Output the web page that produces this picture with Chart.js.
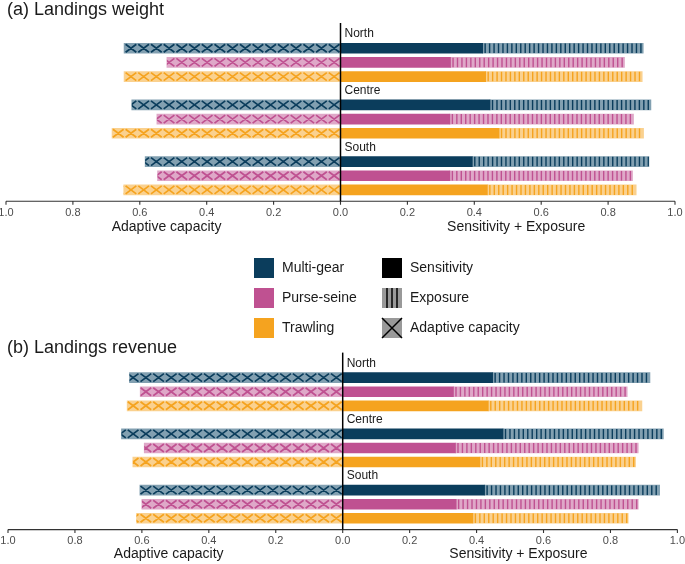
<!DOCTYPE html>
<html>
<head>
<meta charset="utf-8">
<script src="https://cdn.jsdelivr.net/npm/chart.js@4.4.1/dist/chart.umd.min.js"></script>
<style>
  body { margin: 0; background: #fff; font-family: "Liberation Sans", Arial, sans-serif; }
  #wrap { position: relative; width: 685px; height: 564px; overflow: hidden; }
  .box { position: absolute; left: 0; width: 685px; }
</style>
</head>
<body>
<div id="wrap">
  <div class="box" style="top:0;height:240px"><canvas id="weightCanvas"></canvas></div>
  <div class="box" style="top:330px;height:234px"><canvas id="revenueCanvas"></canvas></div>
  <canvas id="legendCanvas" width="685" height="96" style="position:absolute;left:0;top:245px"></canvas>
</div>
<script>
// Categories
const regions = ["North", "Centre", "South"];
const gears = ["Multi-gear", "Purse-seine", "Trawling"];
const xTicks = [-1, -0.8, -0.6, -0.4, -0.2, 0, 0.2, 0.4, 0.6, 0.8, 1];

// (a) Landings weight  (order: North MG, PS, TR, Centre MG, PS, TR, South MG, PS, TR)
const weightSensitivity = [0.425, 0.329, 0.434, 0.447, 0.327, 0.474, 0.394, 0.327, 0.439];
const weightExposure    = [0.480, 0.520, 0.468, 0.481, 0.549, 0.432, 0.528, 0.546, 0.445];
const weightAdaptive    = [0.647, 0.519, 0.647, 0.624, 0.549, 0.683, 0.584, 0.547, 0.648];

// (b) Landings revenue
const revenueSensitivity = [0.448, 0.331, 0.435, 0.479, 0.337, 0.410, 0.424, 0.339, 0.389];
const revenueExposure    = [0.470, 0.519, 0.459, 0.479, 0.546, 0.465, 0.523, 0.544, 0.464];
const revenueAdaptive    = [0.637, 0.605, 0.644, 0.661, 0.593, 0.627, 0.606, 0.600, 0.616];

// couleurs par engin
const gearDark  = ["#0B3D5C", "#BF5191", "#F5A31F"];
const gearLight = ["#82A0B1", "#DFA8C8", "#FAD18F"];
const FONT = "'Liberation Sans', Arial, sans-serif";

// une ligne d'en-tete par region + 3 lignes de barres
const rowLabels = [];
regions.forEach(function(r) {
  rowLabels.push(r);
  gears.forEach(function(g) { rowLabels.push(r + " " + g); });
});

function toRows(values, sign) {
  var out = [];
  regions.forEach(function(r, i) {
    out.push(null);
    gears.forEach(function(g, j) { out.push(sign * values[i * 3 + j]); });
  });
  return out;
}

function gearOf(idx) { return (idx % 4) - 1; }

function hatch(ctx, el, color, kind) {
  var left = Math.min(el.x, el.base), right = Math.max(el.x, el.base);
  var top = el.y - el.height / 2, bottom = el.y + el.height / 2;
  ctx.save();
  ctx.beginPath();
  ctx.rect(left, top, right - left, el.height);
  ctx.clip();
  ctx.strokeStyle = color;
  ctx.beginPath();
  if (kind === "cross") {
    var w = 12.7;
    ctx.lineWidth = 1.7;
    for (var cx = el.base; cx > left - w; cx -= w) {
      ctx.moveTo(cx - 1, top + 1); ctx.lineTo(cx - w + 1, bottom - 1);
      ctx.moveTo(cx - w + 1, top + 1); ctx.lineTo(cx - 1, bottom - 1);
    }
  } else {
    ctx.lineWidth = 1.4;
    for (var sx = left + 2.5; sx < right; sx += 4.45) {
      ctx.moveTo(sx, top); ctx.lineTo(sx, bottom);
    }
  }
  ctx.stroke();
  ctx.restore();
}

// motifs, axes et textes du panneau
const panelDecor = {
  id: "panelDecor",
  afterDatasetsDraw: function(chart) {
    var ctx = chart.ctx;
    chart.getDatasetMeta(1).data.forEach(function(el, i) {
      var g = gearOf(i);
      if (g >= 0) hatch(ctx, el, gearDark[g], "stripes");
    });
    chart.getDatasetMeta(2).data.forEach(function(el, i) {
      var g = gearOf(i);
      if (g >= 0) hatch(ctx, el, gearDark[g], "cross");
    });
  },
  afterDraw: function(chart, args, opts) {
    var ctx = chart.ctx, area = chart.chartArea;
    var xs = chart.scales.x, ys = chart.scales.y;
    var axisY = area.bottom + 4.3;
    var x0 = xs.getPixelForValue(0);
    ctx.save();
    // axe x
    ctx.strokeStyle = "#333333";
    ctx.lineWidth = 1.1;
    ctx.beginPath();
    ctx.moveTo(xs.getPixelForValue(-1), axisY);
    ctx.lineTo(xs.getPixelForValue(1), axisY);
    xTicks.forEach(function(v) {
      var px = xs.getPixelForValue(v);
      ctx.moveTo(px, axisY); ctx.lineTo(px, axisY + 3.5);
    });
    ctx.stroke();
    // ligne du zero
    ctx.strokeStyle = "#000000";
    ctx.lineWidth = 1.5;
    ctx.beginPath();
    ctx.moveTo(x0, area.top - 4);
    ctx.lineTo(x0, axisY);
    ctx.stroke();
    // etiquettes des regions
    ctx.fillStyle = "#1a1a1a";
    ctx.font = "12px " + FONT;
    ctx.textAlign = "left";
    ctx.textBaseline = "middle";
    regions.forEach(function(r, i) {
      ctx.fillText(r, x0 + 4, ys.getPixelForValue(i * 4));
    });
    // titres des axes
    ctx.font = "14px " + FONT;
    ctx.textAlign = "center";
    ctx.fillText("Adaptive capacity", xs.getPixelForValue(-0.52), area.bottom + opts.titleOffset);
    ctx.fillText("Sensitivity + Exposure", xs.getPixelForValue(0.525), area.bottom + opts.titleOffset);
    // titre du panneau
    ctx.font = "18px " + FONT;
    ctx.textAlign = "left";
    ctx.textBaseline = "alphabetic";
    ctx.fillText(opts.title, 7, opts.titleY);
    ctx.restore();
  }
};

function makePanel(canvasId, title, sens, expo, adapt, pad, axisHeight, titleY, titleOffset) {
  var dataGraph = {
    type: "bar",
    data: {
      labels: rowLabels,
      datasets: [
        {
          label: "Sensitivity",
          data: toRows(sens, 1),
          backgroundColor: function(c) { return gearDark[gearOf(c.dataIndex)] || "transparent"; },
          barThickness: 10,
          borderWidth: 0
        },
        {
          label: "Exposure",
          data: toRows(expo, 1),
          backgroundColor: function(c) { return gearLight[gearOf(c.dataIndex)] || "transparent"; },
          barThickness: 10,
          borderWidth: 0
        },
        {
          label: "Adaptive capacity",
          data: toRows(adapt, -1),
          backgroundColor: function(c) { return gearLight[gearOf(c.dataIndex)] || "transparent"; },
          barThickness: 10,
          borderWidth: 0
        }
      ]
    },
    options: {
      indexAxis: "y",
      responsive: true,
      maintainAspectRatio: false,
      animation: false,
      layout: { padding: pad },
      scales: {
        y: { stacked: true, display: false },
        x: {
          stacked: true,
          min: -1,
          max: 1,
          grid: { display: false, drawTicks: false },
          border: { display: false },
          afterBuildTicks: function(s) { s.ticks = xTicks.map(function(v) { return { value: v }; }); },
          afterFit: function(s) { s.paddingLeft = 0; s.paddingRight = 0; s.height = axisHeight; },
          ticks: {
            autoSkip: false,
            maxRotation: 0,
            padding: 9,
            color: "#4D4D4D",
            font: { family: FONT, size: 11 },
            callback: function(v) { return Math.abs(v).toFixed(1); }
          }
        }
      },
      plugins: {
        legend: { display: false },
        tooltip: { enabled: false },
        panelDecor: { title: title, titleY: titleY, titleOffset: titleOffset }
      }
    },
    plugins: [panelDecor]
  };
  return new Chart(document.getElementById(canvasId), dataGraph);
}

makePanel("weightCanvas", "(a) Landings weight", weightSensitivity, weightExposure, weightAdaptive,
  { top: 27, left: 6, right: 10, bottom: 0 }, 43, 15, 30);
makePanel("revenueCanvas", "(b) Landings revenue", revenueSensitivity, revenueExposure, revenueAdaptive,
  { top: 26.6, left: 8, right: 7.6, bottom: 0 }, 38.7, 23.3, 29);

// Legende
(function drawLegend() {
  var cv = document.getElementById("legendCanvas");
  var ctx = cv.getContext("2d");
  var size = 20;
  ctx.font = "14px " + FONT;
  ctx.textBaseline = "middle";
  ctx.fillStyle = "#1a1a1a";
  gears.forEach(function(g, i) {
    var y = 13 + i * 30;
    ctx.fillStyle = gearDark[i];
    ctx.fillRect(254, y, size, size);
    ctx.fillStyle = "#1a1a1a";
    ctx.fillText(g, 282, y + size / 2);
  });
  var parts = ["Sensitivity", "Exposure", "Adaptive capacity"];
  parts.forEach(function(p, i) {
    var x = 382, y = 13 + i * 30;
    ctx.fillStyle = i === 0 ? "#000000" : "#999999";
    ctx.fillRect(x, y, size, size);
    ctx.strokeStyle = "#000000";
    ctx.lineWidth = 1.5;
    ctx.beginPath();
    if (i === 1) {
      [5, 10, 15].forEach(function(d) { ctx.moveTo(x + d, y); ctx.lineTo(x + d, y + size); });
    } else if (i === 2) {
      ctx.moveTo(x, y); ctx.lineTo(x + size, y + size);
      ctx.moveTo(x + size, y); ctx.lineTo(x, y + size);
    }
    ctx.stroke();
    ctx.fillStyle = "#1a1a1a";
    ctx.fillText(p, 410, y + size / 2);
  });
})();
</script>
</body>
</html>
